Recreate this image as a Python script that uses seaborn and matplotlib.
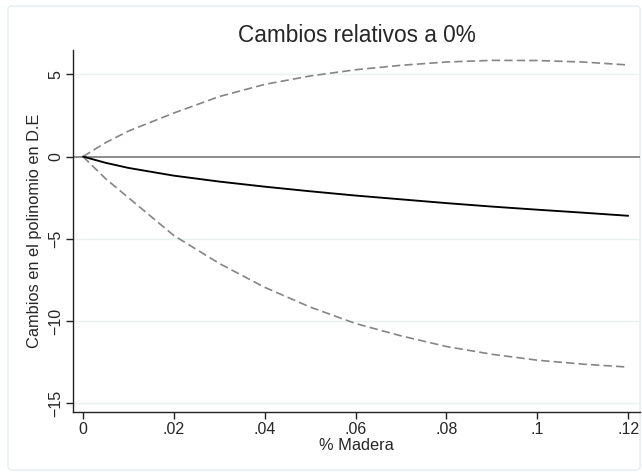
import matplotlib
matplotlib.use("Agg")
import matplotlib.pyplot as plt
from matplotlib.patches import FancyBboxPatch
import seaborn as sns

# % madera
madera = [0, 0.005, 0.01, 0.02, 0.03, 0.04, 0.05, 0.06, 0.07, 0.08, 0.09, 0.10, 0.11, 0.12]
# cambio estimado (D.E) y bandas de confianza
efecto = [0, -0.38, -0.69, -1.16, -1.52, -1.83, -2.11, -2.37, -2.60, -2.83, -3.04, -3.23, -3.41, -3.60]
superior = [0, 0.85, 1.55, 2.65, 3.65, 4.39, 4.90, 5.28, 5.55, 5.75, 5.85, 5.84, 5.75, 5.57]
inferior = [0, -1.35, -2.50, -4.80, -6.50, -7.95, -9.15, -10.15, -10.90, -11.55, -12.02, -12.38, -12.62, -12.80]

xticks = [0, 0.02, 0.04, 0.06, 0.08, 0.10, 0.12]
xticklabels = ["0", ".02", ".04", ".06", ".08", ".1", ".12"]
yticks = [-15, -10, -5, 0, 5]
yticklabels = ["\u221215", "\u221210", "\u22125", "0", "5"]

sns.set_style("white")
plt.rcParams['font.family'] = ['Liberation Sans', 'DejaVu Sans']

fig = plt.figure(figsize=(6.42, 4.76), dpi=100)
fig.patches.append(FancyBboxPatch((8 / 642, 6 / 476), 632 / 642, 464 / 476,
                                  boxstyle="round,pad=0,rounding_size=0.006",
                                  transform=fig.transFigure, facecolor="none",
                                  edgecolor="#e4ecef", linewidth=1.0, zorder=-1))
ax = fig.add_axes([73 / 642, 64 / 476, 567 / 642, 362 / 476])
ax.set_facecolor("none")

for v in yticks:
    if v != 0:
        ax.axhline(v, color="#eaf1f3", linewidth=1.0, zorder=0)
ax.axhline(0, color="#6e6e6e", linewidth=1.1, zorder=1)

sns.lineplot(x=madera, y=superior, ax=ax, color="#858585", linewidth=1.2)
sns.lineplot(x=madera, y=inferior, ax=ax, color="#858585", linewidth=1.2)
for ln in ax.lines[-2:]:
    ln.set_dashes((5, 2.5))
sns.lineplot(x=madera, y=efecto, ax=ax, color="black", linewidth=1.35)

ax.set_xlim(-0.0022, 0.1226)
ax.set_ylim(-15.53, 6.48)
ax.set_xticks(xticks)
ax.set_xticklabels(xticklabels, fontsize=11.5)
ax.set_yticks(yticks)
ax.set_yticklabels(yticklabels, fontsize=11.5, rotation=90, va="center")

for side in ["top", "right"]:
    ax.spines[side].set_visible(False)
for side in ["left", "bottom"]:
    ax.spines[side].set_color("#222222")
    ax.spines[side].set_linewidth(1.0)
ax.tick_params(axis="both", direction="out", length=5, width=1.0, color="#222222",
               left=True, bottom=True)
ax.tick_params(axis="x", pad=2)
ax.tick_params(axis="y", pad=2)

ax.set_xlabel("% Madera", fontsize=11.8, labelpad=1)
ax.set_ylabel("Cambios en el polinomio en D.E", fontsize=11.8, labelpad=4.5)
ax.set_title("Cambios relativos a 0%", fontsize=16.3, pad=6)

fig.savefig("out.png", dpi=100)
